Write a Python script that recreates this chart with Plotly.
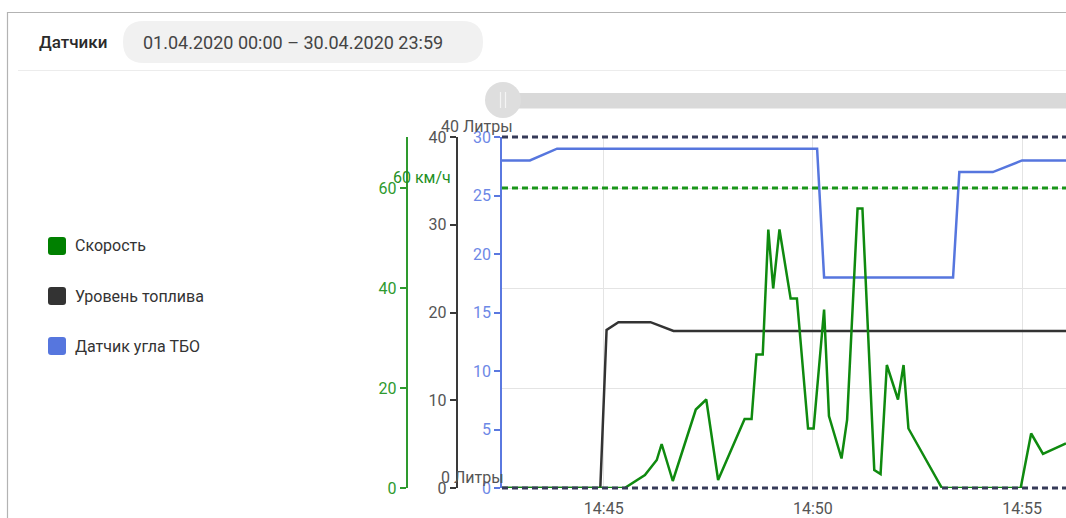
import plotly.graph_objects as go

W, H = 1066, 518

# ---------------- data ----------------
series_names = ["Скорость", "Уровень топлива", "Датчик угла ТБО"]
series_colors = ["#0f8a0f", "#333333", "#5676de"]

speed_time = ["14:42:00", "14:45:30", "14:45:59", "14:46:16", "14:46:23", "14:46:39",
              "14:47:12", "14:47:27", "14:47:44", "14:48:22", "14:48:32", "14:48:39",
              "14:48:48", "14:48:56", "14:49:03", "14:49:12", "14:49:28", "14:49:37",
              "14:49:53", "14:50:01", "14:50:16", "14:50:23", "14:50:41", "14:50:49",
              "14:51:04", "14:51:11", "14:51:28", "14:51:37", "14:51:46", "14:52:02",
              "14:52:10", "14:52:17", "14:53:05", "14:54:58", "14:55:13", "14:55:30",
              "14:56:03"]
speed_vals = [0, 0, 2.6, 5.6, 8.8, 1.4,
              15.7, 17.7, 1.6, 13.8, 13.8, 26.7,
              26.7, 51.7, 39.9, 51.7, 37.9, 37.9,
              11.9, 11.9, 35.7, 14.4, 5.9, 13.6,
              55.9, 55.9, 3.6, 2.8, 24.6, 17.7,
              24.6, 11.9, 0, 0, 10.9, 6.8,
              8.9]

fuel_time = ["14:42:00", "14:44:55", "14:45:04", "14:45:21", "14:46:07", "14:46:40", "14:56:30"]
fuel_vals = [0, 0, 18.0, 18.9, 18.9, 17.9, 17.9]

angle_time = ["14:42:00", "14:43:14", "14:43:53", "14:50:06", "14:50:16", "14:53:21",
              "14:53:30", "14:54:18", "14:55:00", "14:56:30"]
angle_vals = [28, 28, 29, 29, 18, 18, 27, 27, 28, 28]

day = "2020-04-01 "
x_range = ["14:42:34", "14:56:03"]

fuel_range = [0, 40]
speed_range = [0, 70.2]
angle_range = [0, 30]

fuel_limits = [40, 0]
fuel_limit_labels = ["40 Литры", "0 Литры"]
speed_limit = 60
speed_limit_label = "60 км/ч"

header_title = "Датчики"
header_period = "01.04.2020 00:00 – 30.04.2020 23:59"

# ---------------- helpers ----------------
def px(x):
    return x / W


def py(y):
    return 1 - y / H


def frac(v, rng):
    return (v - rng[0]) / (rng[1] - rng[0])


def rrect(x0, y0, x1, y1, r):
    pts = [
        f"M{px(x0 + r)},{py(y0)}",
        f"L{px(x1 - r)},{py(y0)}",
        f"Q{px(x1)},{py(y0)} {px(x1)},{py(y0 + r)}",
        f"L{px(x1)},{py(y1 - r)}",
        f"Q{px(x1)},{py(y1)} {px(x1 - r)},{py(y1)}",
        f"L{px(x0 + r)},{py(y1)}",
        f"Q{px(x0)},{py(y1)} {px(x0)},{py(y1 - r)}",
        f"L{px(x0)},{py(y0 + r)}",
        f"Q{px(x0)},{py(y0)} {px(x0 + r)},{py(y0)}",
        "Z",
    ]
    return " ".join(pts)


FONT = "Roboto, 'Noto Sans', sans-serif"
FS = 17

fig = go.Figure()

fig.add_trace(go.Scatter(x=[day + t for t in angle_time], y=angle_vals, yaxis="y",
                         mode="lines", name=series_names[2],
                         line=dict(color=series_colors[2], width=2.5), showlegend=False))
fig.add_trace(go.Scatter(x=[day + t for t in fuel_time], y=fuel_vals, yaxis="y2",
                         mode="lines", name=series_names[1],
                         line=dict(color=series_colors[1], width=2.5), showlegend=False))
fig.add_trace(go.Scatter(x=[day + t for t in speed_time], y=speed_vals, yaxis="y3",
                         mode="lines", name=series_names[0],
                         line=dict(color=series_colors[0], width=2.5), showlegend=False))

plot_top, plot_bottom, plot_left = 137, 488, 502

shapes = []
# card border & separator
shapes.append(dict(type="rect", xref="paper", yref="paper", x0=px(7.5), x1=px(1075),
                   y0=py(12.5), y1=py(530), line=dict(color="#b3b3b3", width=1.2),
                   fillcolor="rgba(0,0,0,0)", layer="below"))
shapes.append(dict(type="line", xref="paper", yref="paper", x0=px(18), x1=px(1066),
                   y0=py(70.5), y1=py(70.5), line=dict(color="#ececec", width=1.2)))
# period pill
shapes.append(dict(type="path", xref="paper", yref="paper", path=rrect(123, 21, 483, 63, 21),
                   fillcolor="#f1f1f1", line=dict(width=0), layer="below"))
# slider
shapes.append(dict(type="rect", xref="paper", yref="paper", x0=px(490), x1=px(1075),
                   y0=py(93), y1=py(108.5), fillcolor="#d9d9d9", line=dict(width=0)))
shapes.append(dict(type="circle", xref="paper", yref="paper", x0=px(485), x1=px(521),
                   y0=py(82), y1=py(118), fillcolor="#dedede", line=dict(width=0)))
for lx in (500.5, 505.5):
    shapes.append(dict(type="line", xref="paper", yref="paper", x0=px(lx), x1=px(lx),
                       y0=py(92), y1=py(108), line=dict(color="#f4f4f4", width=1.2)))
# legend squares
for i, c in enumerate(series_colors):
    cy = 246 + 50 * i
    shapes.append(dict(type="path", xref="paper", yref="paper",
                       path=rrect(48, cy - 9, 66, cy + 9, 3),
                       fillcolor=c if i != 0 else "#008000", line=dict(width=0)))
# limit lines (domain refs so lines on the plot edges are not clipped)
for v in fuel_limits:
    f = frac(v, fuel_range)
    shapes.append(dict(type="line", xref="x domain", yref="y domain", x0=0, x1=1, y0=f, y1=f,
                       line=dict(color="#363b58", width=3, dash="6px,4px"), layer="above"))
fs = frac(speed_limit, speed_range)
shapes.append(dict(type="line", xref="x domain", yref="y domain", x0=0, x1=1,
                   y0=fs, y1=fs,
                   line=dict(color="#1a961a", width=3, dash="6px,4px"), layer="above"))

annotations = []
annotations.append(dict(xref="paper", yref="paper", x=px(37), y=py(42), text=header_title,
                        showarrow=False, xanchor="left", yanchor="middle",
                        font=dict(family=FONT, size=FS, color="#2a2a2a", weight=500)))
annotations.append(dict(xref="paper", yref="paper", x=px(141), y=py(42), text=header_period,
                        showarrow=False, xanchor="left", yanchor="middle",
                        font=dict(family=FONT, size=18, color="#444444")))
for i, name in enumerate(series_names):
    annotations.append(dict(xref="paper", yref="paper", x=px(73), y=py(246 + 50 * i),
                            text=name, showarrow=False, xanchor="left", yanchor="middle",
                            font=dict(family=FONT, size=FS - 1, color="#333333")))
for v, lab in zip(fuel_limits, fuel_limit_labels):
    annotations.append(dict(xref="paper", yref="y2", x=px(439), y=v, text=lab,
                            showarrow=False, xanchor="left", yanchor="bottom", yshift=-1,
                            font=dict(family=FONT, size=FS - 1, color="#555555")))
annotations.append(dict(xref="paper", yref="y3", x=px(391), y=speed_limit, text=speed_limit_label,
                        showarrow=False, xanchor="left", yanchor="bottom", yshift=-1,
                        font=dict(family=FONT, size=FS - 1, color="#1f8f1f")))

fig.update_layout(
    width=W, height=H, autosize=False,
    margin=dict(l=0, r=0, t=0, b=0),
    paper_bgcolor="white", plot_bgcolor="white",
    font=dict(family=FONT, size=FS, color="#555555"),
    showlegend=False,
    shapes=shapes, annotations=annotations,
    xaxis=dict(domain=[px(plot_left), 1], range=[day + x_range[0], day + x_range[1]],
               type="date", tickformat="%H:%M", dtick=300000,
               tick0=day + "14:45:00",
               showgrid=True, gridcolor="#e4e4e4", gridwidth=1,
               showline=False, zeroline=False, ticks="", automargin=False,
               ticklabelstandoff=9,
               tickfont=dict(size=FS - 1, color="#555555"), anchor="y"),
    yaxis=dict(domain=[1 - plot_bottom / H, 1 - plot_top / H], range=angle_range, dtick=5,
               anchor="x", side="left", showline=True, linecolor="#5a78e0", linewidth=1.5,
               ticks="outside", ticklen=6, tickcolor="#5a78e0", tickwidth=1.5,
               showgrid=False, zeroline=False, automargin=False,
               tickfont=dict(size=FS - 1, color="#6d88e6")),
    yaxis2=dict(range=fuel_range, dtick=10, overlaying="y", anchor="free", side="left",
                position=px(456.5), showline=True, linecolor="#3a3a3a", linewidth=1.5,
                ticks="outside", ticklen=6, tickcolor="#3a3a3a", tickwidth=1.5,
                showgrid=False, zeroline=False, automargin=False,
                tickfont=dict(size=FS - 1, color="#555555")),
    yaxis3=dict(range=speed_range, dtick=20, overlaying="y", anchor="free", side="left",
                position=px(406.5), showline=True, linecolor="#2e9a2e", linewidth=1.5,
                ticks="outside", ticklen=6, tickcolor="#2e9a2e", tickwidth=1.5,
                showgrid=True, gridcolor="#e4e4e4", gridwidth=1,
                zeroline=False, automargin=False,
                tickfont=dict(size=FS - 1, color="#2e9a2e")),
)

fig.write_html("out.html", config={"displayModeBar": False},
               post_script="document.body.style.margin='0';document.body.style.overflow='hidden';")
